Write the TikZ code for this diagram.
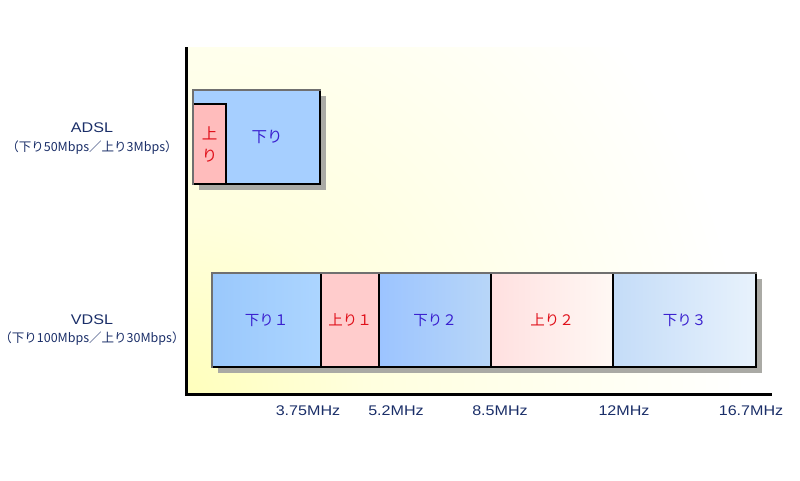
\documentclass[tikz,border=0pt]{standalone}
\usepackage{fontspec}
\setmainfont{Liberation Sans}
\newfontfamily\jpfont{Noto Sans CJK JP}
\newfontfamily\widefont[FakeStretch=1.15]{Liberation Sans}
\usepackage{xcolor}
\usepackage{tikz}
\usetikzlibrary{positioning,backgrounds}
\definecolor{navy}{RGB}{26,46,104}
\definecolor{dntext}{RGB}{58,31,207}
\definecolor{uptext}{RGB}{224,16,26}
\definecolor{adblue}{RGB}{166,207,255}
\definecolor{adred}{RGB}{255,188,188}
\definecolor{dnonel}{RGB}{154,200,252}
\definecolor{dnoner}{RGB}{172,213,255}
\definecolor{uponefill}{RGB}{255,204,204}
\definecolor{dntwol}{RGB}{156,196,255}
\definecolor{dntwor}{RGB}{184,214,248}
\definecolor{uptwol}{RGB}{255,224,224}
\definecolor{uptwor}{RGB}{255,248,244}
\definecolor{dnthreel}{RGB}{196,220,248}
\definecolor{dnthreer}{RGB}{232,242,252}
\definecolor{rimgray}{RGB}{112,112,112}
\definecolor{shadowgray}{RGB}{170,170,165}
\definecolor{bgyellow}{RGB}{255,255,188}
\definecolor{bgcream}{RGB}{255,255,222}
\pgfdeclareradialshading{cornerglow}{\pgfpoint{0bp}{0bp}}{color(0bp)=(bgyellow); color(8bp)=(bgcream); color(25bp)=(white); color(50bp)=(white)}

\begin{document}
\begin{tikzpicture}[x=1pt, y=-1pt,
  band/.style={draw=black, line width=1.8pt, outer sep=0pt, inner sep=0pt,
               minimum height=94pt, font=\jpfont\fontsize{14.5}{16}\selectfont},
  down/.style={band, text=dntext},
  up/.style={band, text=uptext},
  dnlabel/.style={text=dntext, font=\jpfont\fontsize{15.5}{17}\selectfont},
  rim/.style={draw=rimgray, line width=1.8pt, line cap=rect},
  axis/.style={line width=3pt},
  tech/.style={font=\widefont\fontsize{14}{16}\selectfont, text=navy},
  rate/.style={font=\jpfont\fontsize{12.5}{15}\selectfont, text=navy, inner sep=0pt},
  freq/.style={font=\widefont\fontsize{14}{16}\selectfont, text=navy},
  drop/.style={fill=shadowgray}]

\useasboundingbox (0,0) rectangle (800,480);

\node[down, fill=adblue, anchor=north west, minimum width=127pt] (ad) at (193,90) {};
\node[up, fill=adred, anchor=south west, minimum width=33pt, minimum height=80pt,
      align=center, font=\jpfont\fontsize{15.5}{22}\selectfont] (au) at (ad.south west) {上\\り};
\node[dnlabel] (adt) at (267,137) {下り};

\node[down, left color=dnonel, right color=dnoner, anchor=north west, minimum width=109pt] (d1) at (212,273) {下り１};
\node[up, fill=uponefill, minimum width=58pt, right=0pt of d1] (u1) {上り１};
\node[down, left color=dntwol, right color=dntwor, minimum width=112pt, right=0pt of u1] (d2) {下り２};
\node[up, left color=uptwol, right color=uptwor, minimum width=122pt, right=0pt of d2] (u2) {上り２};
\node[down, left color=dnthreel, right color=dnthreer, minimum width=143pt, right=0pt of u2] (d3) {下り３};

\draw[rim] (au.south west) -- (ad.north west) -- (ad.north east);
\draw[rim] (d1.south west) -- (d1.north west) -- (d3.north east);

\begin{pgfonlayer}{background}
  \begin{scope}
    \clip (186,47) rectangle (772,394);
    \shade[shading=cornerglow] (186,394) circle (560);
  \end{scope}
  \fill[drop] ([shift={(6,6)}]ad.north west) rectangle ([shift={(6,6)}]ad.south east);
  \fill[drop] ([shift={(6,6)}]d1.north west) rectangle ([shift={(6,6)}]d3.south east);
\end{pgfonlayer}

\draw[axis] (186,47) -- (186,394) -- (772,394);

\node[tech] (adsl) at (92,128) {ADSL};
\node[rate] (adslrate) at (92,148) {（下り50Mbps／上り3Mbps）};
\node[tech] (vdsl) at (92,320) {VDSL};
\node[rate] (vdslrate) at (92,339) {（下り100Mbps／上り30Mbps）};

\node[freq] (f1) at (308,411) {3.75MHz};
\node[freq] (f2) at (396,411) {5.2MHz};
\node[freq] (f3) at (500,411) {8.5MHz};
\node[freq] (f4) at (624,411) {12MHz};
\node[freq] (f5) at (751,411) {16.7MHz};
\end{tikzpicture}
\end{document}
